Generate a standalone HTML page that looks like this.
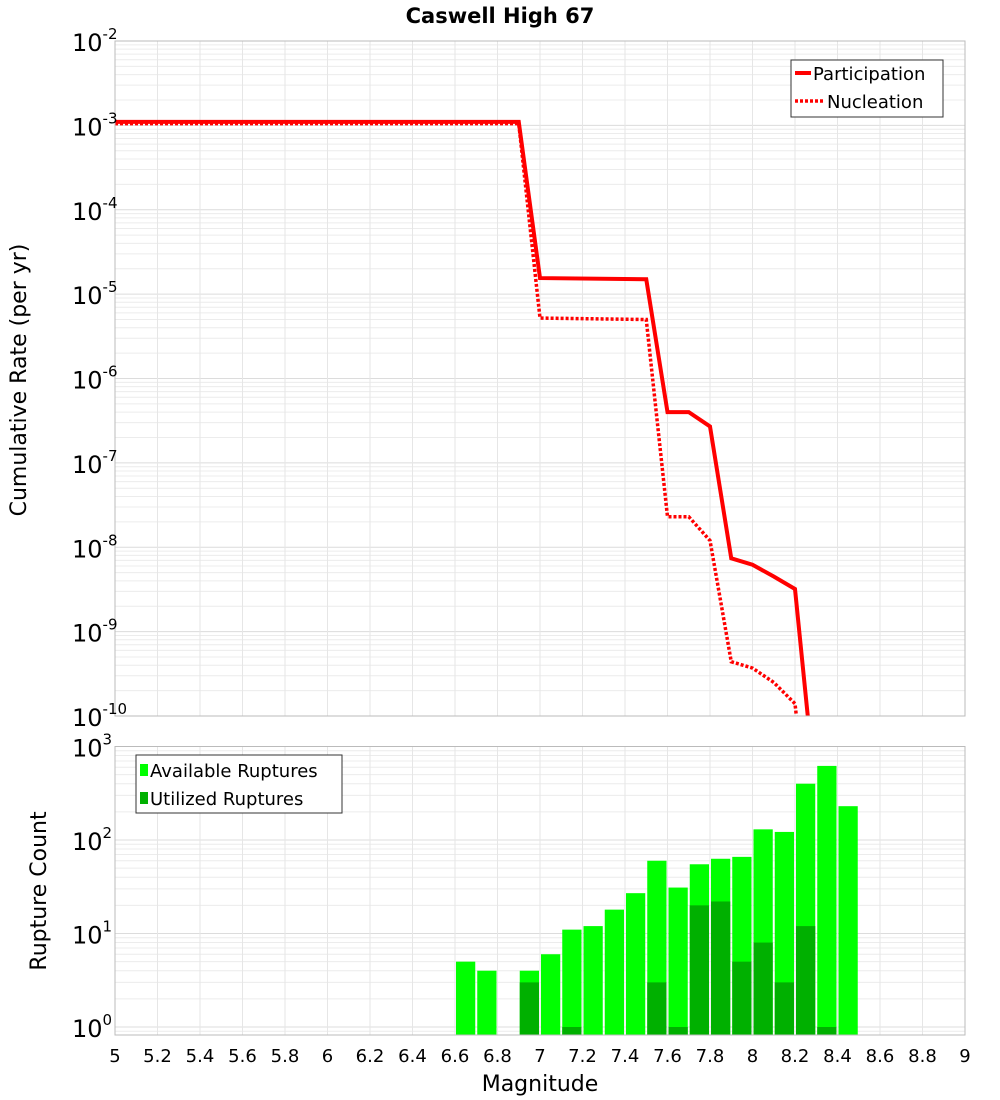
<!DOCTYPE html>
<html><head><meta charset="utf-8"><style>
html,body{margin:0;padding:0;background:#fff;}
svg{display:block;font-family:"DejaVu Sans","Liberation Sans",sans-serif;}
</style></head><body>
<svg id="c" width="1000" height="1100" xmlns="http://www.w3.org/2000/svg">
<text x="500" y="23" text-anchor="middle" font-size="21" font-weight="bold">Caswell High 67</text>
</svg>
<script>
const mags = [5, 6.9, 7.0, 7.5, 7.6, 7.7, 7.8, 7.9, 8.0, 8.1, 8.2, 8.3];
const participation = [1.1e-3, 1.1e-3, 1.55e-5, 1.5e-5, 4e-7, 4e-7, 2.7e-7, 7.4e-9, 6.2e-9, 4.5e-9, 3.2e-9, 1e-11];
const nucMags = [5, 6.9, 7.0, 7.5, 7.6, 7.7, 7.8, 7.9, 8.0, 8.1, 8.2, 8.25];
const nucleation = [1.05e-3, 1.05e-3, 5.2e-6, 5e-6, 2.3e-8, 2.3e-8, 1.2e-8, 4.4e-10, 3.7e-10, 2.5e-10, 1.4e-10, 1e-11];
const binStarts = [6.6, 6.7, 6.9, 7.0, 7.1, 7.2, 7.3, 7.4, 7.5, 7.6, 7.7, 7.8, 7.9, 8.0, 8.1, 8.2, 8.3, 8.4];
const available = [5, 4, 4, 6, 11, 12, 18, 27, 60, 31, 55, 63, 66, 130, 122, 400, 620, 230];
const utilized = [0, 0, 3, 0, 1, 0, 0, 0, 3, 1, 20, 22, 5, 8, 3, 12, 1, 0];
const xTicks = [5,5.2,5.4,5.6,5.8,6,6.2,6.4,6.6,6.8,7,7.2,7.4,7.6,7.8,8,8.2,8.4,8.6,8.8,9];

const NS="http://www.w3.org/2000/svg", svg=document.getElementById('c');
function mk(t,a,p){const e=document.createElementNS(NS,t);for(const k in a)e.setAttribute(k,a[k]);(p||svg).appendChild(e);return e;}
const L=115,R=965;
const X=m=>L+(m-5)*(R-L)/4;
const T1=41,B1=716; const Y1=v=>T1+(-2-Math.log10(v))*(B1-T1)/8;
const T2=746.5,B2=1035; const Y2=v=>T2+(3-Math.log10(v))*93.5;

const g=mk('g',{});


for(let d=-10;d<-2;d++)for(let k=1;k<10;k++){const y=Y1(k*Math.pow(10,d));mk('line',{x1:L,x2:R,y1:y,y2:y,stroke:k==1?'#dcdcdc':'#ececec','stroke-width':1},g);}
for(let d=-1;d<3;d++)for(let k=1;k<10;k++){const y=Y2(k*Math.pow(10,d));if(y<T2||y>B2)continue;mk('line',{x1:L,x2:R,y1:y,y2:y,stroke:k==1?'#dcdcdc':'#ececec','stroke-width':1},g);}
xTicks.forEach(m=>{const x=X(m);mk('line',{x1:x,x2:x,y1:T1,y2:B1,stroke:'#e6e6e6'},g);mk('line',{x1:x,x2:x,y1:T2,y2:B2,stroke:'#e6e6e6'},g);});

const bw=(X(5.1)-X(5))-2;
binStarts.forEach((m,i)=>{
  const x=X(m)+1;
  const b=mk('rect',{x:x,y:Y2(available[i]),width:bw,height:B2-Y2(available[i]),fill:'#00ff00'});
  
  
  if(utilized[i]>0){
    const u=mk('rect',{x:x,y:Y2(utilized[i]),width:bw,height:B2-Y2(utilized[i]),fill:'#00b000'});
    
    
  }
});

mk('clipPath',{id:'cp'}); mk('rect',{x:L,y:T1,width:R-L,height:B1-T1},svg.lastChild);
const pp=mk('polyline',{points:mags.map((m,i)=>X(m)+','+Y1(participation[i])).join(' '),fill:'none',stroke:'#ff0000','stroke-width':4,'clip-path':'url(#cp)'});


const np=mk('polyline',{points:nucMags.map((m,i)=>X(m)+','+Y1(nucleation[i])).join(' '),fill:'none',stroke:'#ff0000','stroke-width':3.5,'stroke-dasharray':'3 2','clip-path':'url(#cp)'});



mk('rect',{x:L,y:T1,width:R-L,height:B1-T1,fill:'none',stroke:'#bbb'});
mk('rect',{x:L,y:T2,width:R-L,height:B2-T2,fill:'none',stroke:'#bbb'});

function pow(y,e,name){const t=mk('text',{x:72,y:y,'font-size':24});
 
 t.textContent='10';const s=document.createElementNS(NS,'tspan');s.setAttribute('dy','-12');s.setAttribute('font-size','15');s.textContent=e;t.appendChild(s);}
for(let d=-10;d<=-2;d++){pow(Y1(Math.pow(10,d))+10,String(d),'y-tick-top-'+(-d));}
for(let d=0;d<=3;d++){pow(Y2(Math.pow(10,d))+10,String(d),'y-tick-bottom-'+d);}

xTicks.forEach(m=>{const t=mk('text',{x:X(m),y:1062,'text-anchor':'middle','font-size':18});
 t.textContent=String(m);});

let t=mk('text',{x:540,y:1091,'text-anchor':'middle','font-size':22});t.textContent='Magnitude';

t=mk('text',{x:0,y:0,'text-anchor':'middle','font-size':22,transform:'translate(26,380) rotate(-90)'});t.textContent='Cumulative Rate (per yr)';

t=mk('text',{x:0,y:0,'text-anchor':'middle','font-size':22,transform:'translate(46,891) rotate(-90)'});t.textContent='Rupture Count';


let lg=mk('g',{});
mk('rect',{x:791,y:60,width:152,height:57,fill:'#fff',stroke:'#333'},lg);
mk('line',{x1:795,x2:811,y1:73,y2:73,stroke:'#f00','stroke-width':4},lg);
mk('line',{x1:795,x2:823,y1:101,y2:101,stroke:'#f00','stroke-width':3.5,'stroke-dasharray':'3 2'},lg);
t=mk('text',{x:813,y:80,'font-size':18},lg);t.textContent='Participation';
t=mk('text',{x:827,y:108,'font-size':18},lg);t.textContent='Nucleation';
lg=mk('g',{});
mk('rect',{x:136,y:755,width:206,height:58,fill:'#fff',stroke:'#333'},lg);
mk('rect',{x:140,y:764,width:8,height:12,fill:'#00ff00'},lg);
mk('rect',{x:140,y:792,width:8,height:12,fill:'#00b000'},lg);
t=mk('text',{x:150,y:777,'font-size':18},lg);t.textContent='Available Ruptures';
t=mk('text',{x:150,y:805,'font-size':18},lg);t.textContent='Utilized Ruptures';
</script>
</body></html>
